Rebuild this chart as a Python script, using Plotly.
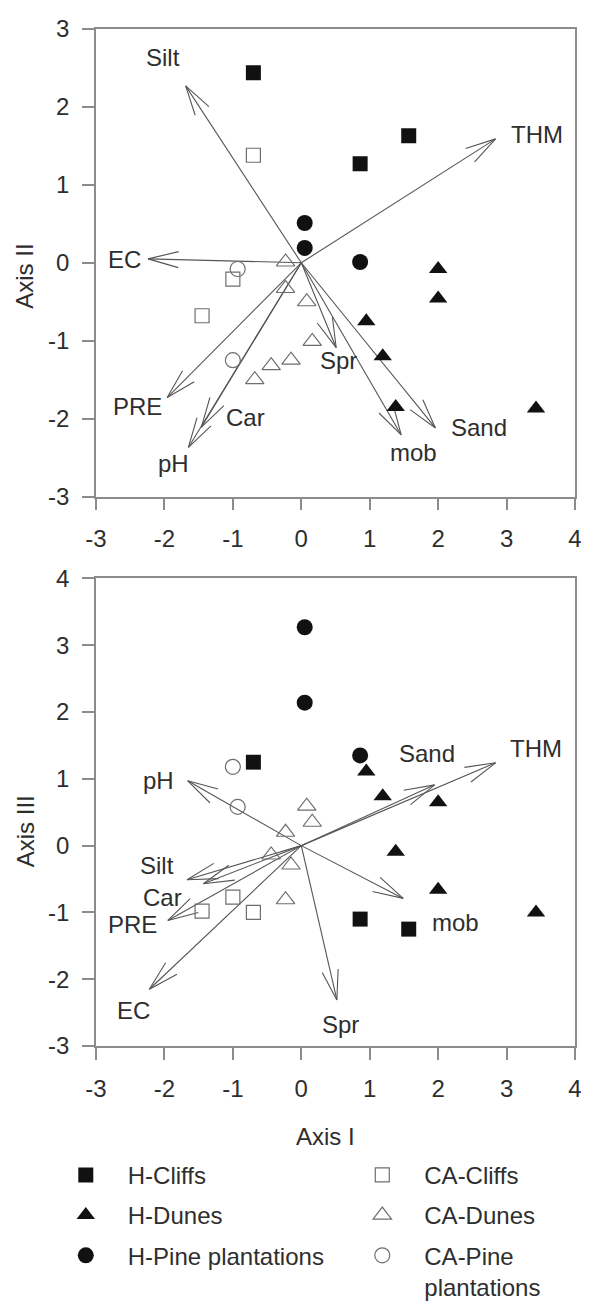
import numpy as np
import plotly.graph_objects as go

# ---------------- data ----------------
groups = ["H-Cliffs", "H-Dunes", "H-Pine plantations", "CA-Cliffs", "CA-Dunes", "CA-Pine<br>plantations"]

hc_ax1 = [-0.70, 1.57, 0.86]
hc_ax2 = [2.44, 1.63, 1.27]
hc_ax3 = [1.25, -1.25, -1.10]

hd_ax1 = [2.00, 2.00, 0.95, 1.19, 1.38, 3.43]
hd_ax2 = [-0.08, -0.46, -0.75, -1.20, -1.85, -1.87]
hd_ax3 = [0.65, -0.66, 1.11, 0.74, -0.09, -1.00]

hp_ax1 = [0.05, 0.05, 0.86]
hp_ax2 = [0.51, 0.19, 0.01]
hp_ax3 = [3.27, 2.14, 1.35]

cc_ax1 = [-0.70, -1.00, -1.45]
cc_ax2 = [1.38, -0.21, -0.68]
cc_ax3 = [-1.00, -0.77, -0.98]

cd_ax1 = [-0.23, -0.23, 0.08, 0.16, -0.15, -0.44, -0.68]
cd_ax2 = [0.01, -0.33, -0.50, -1.01, -1.25, -1.32, -1.50]
cd_ax3 = [0.20, -0.81, 0.59, 0.35, -0.29, -0.14, None]

cp_ax1 = [-0.93, -1.00]
cp_ax2 = [-0.08, -1.25]
cp_ax3 = [0.58, 1.18]

# environmental vectors, Axis I vs Axis II
vec_names = ["Silt", "THM", "EC", "PRE", "Car", "pH", "Spr", "mob", "Sand"]
vec12_x = [-1.69, 2.84, -2.24, -1.96, -1.46, -1.65, 0.51, 1.46, 1.96]
vec12_y = [2.27, 1.59, 0.05, -1.73, -2.11, -2.37, -1.09, -2.21, -2.12]
lab12_x = [-2.02, 3.45, -2.58, -2.39, -0.81, -1.87, 0.54, 1.64, 2.60]
lab12_y = [2.63, 1.65, 0.04, -1.84, -1.98, -2.58, -1.26, -2.43, -2.11]

# environmental vectors, Axis I vs Axis III
vec13_x = [-1.67, 2.84, -2.22, -1.95, -1.43, -1.66, 0.52, 1.49, 1.95]
vec13_y = [-0.51, 1.24, -2.15, -1.12, -0.57, 0.97, -2.31, -0.79, 0.91]
lab13_x = [-2.11, 3.43, -2.45, -2.47, -2.03, -2.08, 0.58, 2.26, 1.84]
lab13_y = [-0.30, 1.46, -2.47, -1.18, -0.78, 0.97, -2.68, -1.15, 1.38]

x_ticks = [-3, -2, -1, 0, 1, 2, 3, 4]
y2_ticks = [-3, -2, -1, 0, 1, 2, 3]
y3_ticks = [-3, -2, -1, 0, 1, 2, 3, 4]

# ---------------- layout constants ----------------
# page body has an 8px default margin, so the figure is 8px smaller
W, H = 581, 1308
ML, MR, MT, MB = 88, 7, 8, 245
PW, PH = W - ML - MR, H - MT - MB
top_dom = [570 / PH, 1.0]
bot_dom = [0.0, 485 / PH]
xr = [-3, 4]
yr2 = [-3, 3]
yr3 = [-3, 4]

FONT = "Liberation Sans, Arial, sans-serif"
FS = 24
TXT = "#2e2e2e"
AX = "#8c8c8c"
ARW = "#555555"
DARK = "#111111"
OPEN = "#6e6e6e"


def arrow_paths(vx, vy, ppx, ppy, L=32.0, ang=15.0):
    xs, ys = [], []
    a = np.radians(ang)
    for tx, ty in zip(vx, vy):
        px, py = tx * ppx, ty * ppy
        n = np.hypot(px, py)
        ux, uy = -px / n, -py / n
        arms = []
        for s in (a, -a):
            rx = ux * np.cos(s) - uy * np.sin(s)
            ry = ux * np.sin(s) + uy * np.cos(s)
            arms.append(((px + L * rx) / ppx, (py + L * ry) / ppy))
        xs += [0, tx, None, arms[0][0], tx, arms[1][0], None]
        ys += [0, ty, None, arms[0][1], ty, arms[1][1], None]
    return xs, ys


def tick_text(vals):
    return [str(v) for v in vals]


ppx = PW / (xr[1] - xr[0])
pp2 = (PH * (top_dom[1] - top_dom[0])) / (yr2[1] - yr2[0])
pp3 = (PH * (bot_dom[1] - bot_dom[0])) / (yr3[1] - yr3[0])

fig = go.Figure()

ax12, ay12 = arrow_paths(vec12_x, vec12_y, ppx, pp2)
ax13, ay13 = arrow_paths(vec13_x, vec13_y, ppx, pp3)
fig.add_trace(go.Scatter(x=ax12, y=ay12, mode="lines", line=dict(color=ARW, width=1.1),
                         showlegend=False, hoverinfo="skip", xaxis="x", yaxis="y"))
fig.add_trace(go.Scatter(x=ax13, y=ay13, mode="lines", line=dict(color=ARW, width=1.1),
                         showlegend=False, hoverinfo="skip", xaxis="x2", yaxis="y2"))

series = [
    (groups[0], hc_ax1, hc_ax2, hc_ax3, "square", DARK, 15, "legend"),
    (groups[3], cc_ax1, cc_ax2, cc_ax3, "square-open", OPEN, 14, "legend2"),
    (groups[1], hd_ax1, hd_ax2, hd_ax3, "triangle-up", DARK, 16, "legend"),
    (groups[4], cd_ax1, cd_ax2, cd_ax3, "triangle-up-open", OPEN, 16, "legend2"),
    (groups[2], hp_ax1, hp_ax2, hp_ax3, "circle", DARK, 16, "legend"),
    (groups[5], cp_ax1, cp_ax2, cp_ax3, "circle-open", OPEN, 15, "legend2"),
]
for name, a1, a2, a3, sym, col, sz, lg in series:
    mk = dict(symbol=sym, size=sz, color=col, line=dict(color=col, width=1.2 if "open" in sym else 0))
    fig.add_trace(go.Scatter(x=a1, y=a2, mode="markers", marker=mk, name=name,
                             legend=lg, legendgroup=name, showlegend=True,
                             xaxis="x", yaxis="y"))
    fig.add_trace(go.Scatter(x=a1, y=a3, mode="markers", marker=mk, name=name,
                             legend=lg, legendgroup=name, showlegend=False,
                             xaxis="x2", yaxis="y2"))

ann = []
for n, lx, ly in zip(vec_names, lab12_x, lab12_y):
    ann.append(dict(x=lx, y=ly, xref="x", yref="y", text=n, showarrow=False,
                    xanchor="center", yanchor="middle",
                    font=dict(family=FONT, size=FS, color=TXT)))
for n, lx, ly in zip(vec_names, lab13_x, lab13_y):
    ann.append(dict(x=lx, y=ly, xref="x2", yref="y2", text=n, showarrow=False,
                    xanchor="center", yanchor="middle",
                    font=dict(family=FONT, size=FS, color=TXT)))
ann.append(dict(x=0, xref="paper", xshift=-71, y=sum(top_dom) / 2, yref="paper", yshift=-14,
                xanchor="center", yanchor="middle",
                text="Axis II", textangle=-90, showarrow=False,
                font=dict(family=FONT, size=FS, color=TXT)))
ann.append(dict(x=0, xref="paper", xshift=-71, y=sum(bot_dom) / 2, yref="paper", yshift=-19,
                xanchor="center", yanchor="middle",
                text="Axis III", textangle=-90, showarrow=False,
                font=dict(family=FONT, size=FS, color=TXT)))
ann.append(dict(x=0.48, xref="paper", y=-94 / PH, yref="paper",
                text="Axis I", showarrow=False, xanchor="center", yanchor="middle",
                font=dict(family=FONT, size=FS, color=TXT)))

axis_common = dict(showline=True, mirror=True, linecolor=AX, linewidth=1.5,
                   ticks="outside", ticklen=12, tickwidth=1.5, tickcolor=AX,
                   showgrid=False, zeroline=False, ticklabeloverflow="allow",
                   tickfont=dict(family=FONT, size=FS, color=TXT))

fig.update_layout(
    width=W, height=H,
    margin=dict(l=ML, r=MR, t=MT, b=MB),
    paper_bgcolor="white", plot_bgcolor="white",
    font=dict(family=FONT, size=FS, color=TXT),
    xaxis=dict(domain=[0, 1], anchor="y", range=xr, tickvals=x_ticks, ticktext=tick_text(x_ticks),
               ticklabelstandoff=8, **axis_common),
    yaxis=dict(domain=top_dom, anchor="x", range=yr2, tickvals=y2_ticks, ticktext=tick_text(y2_ticks),
               ticklabelstandoff=8, **axis_common),
    xaxis2=dict(domain=[0, 1], anchor="y2", range=xr, tickvals=x_ticks, ticktext=tick_text(x_ticks),
                ticklabelstandoff=8, **axis_common),
    yaxis2=dict(domain=bot_dom, anchor="x2", range=yr3, tickvals=y3_ticks, ticktext=tick_text(y3_ticks),
                ticklabelstandoff=8, **axis_common),
    legend=dict(x=-0.109, y=-0.105, xanchor="left", yanchor="top", bgcolor="rgba(0,0,0,0)",
                font=dict(family=FONT, size=FS, color=TXT), tracegroupgap=6, itemwidth=74,
                itemclick=False, itemdoubleclick=False),
    legend2=dict(x=0.51, y=-0.105, xanchor="left", yanchor="top", bgcolor="rgba(0,0,0,0)",
                 font=dict(family=FONT, size=FS, color=TXT), tracegroupgap=6, itemwidth=74,
                 valign="top", itemclick=False, itemdoubleclick=False),
    annotations=ann,
    showlegend=True,
)

fig.write_html("out.html")
